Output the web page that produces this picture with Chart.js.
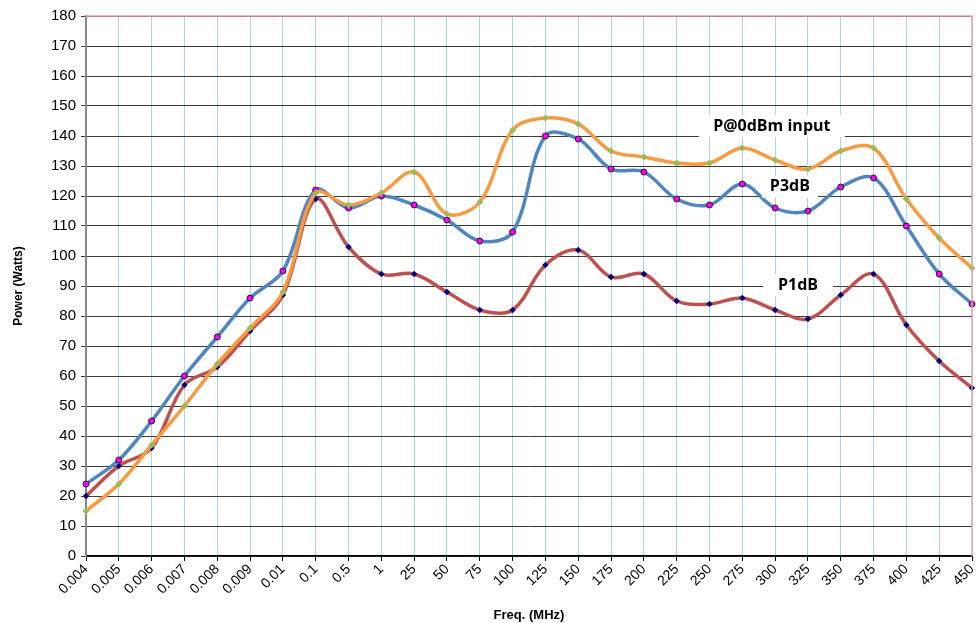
<!DOCTYPE html>
<html>
<head>
<meta charset="utf-8">
<script src="https://cdn.jsdelivr.net/npm/chart.js@4/dist/chart.umd.min.js"></script>
<style>
  html, body { margin: 0; padding: 0; background: #fff; }
  #wrap { width: 980px; height: 623px; }
</style>
</head>
<body>
<div id="wrap"><canvas id="c" width="980" height="623"></canvas></div>
<script>
const freqs = ["0.004", "0.005", "0.006", "0.007", "0.008", "0.009", "0.01", "0.1", "0.5", "1",
  "25", "50", "75", "100", "125", "150", "175", "200", "225", "250", "275", "300", "325",
  "350", "375", "400", "425", "450"];
const p0dbm = [15, 24, 37, 50, 64, 76, 88, 121, 117, 121, 128, 114, 118, 142, 146, 144, 135,
  133, 131, 131, 136, 132, 129, 135, 136, 119, 106, 96];
const p3db = [24, 32, 45, 60, 73, 86, 95, 122, 116, 120, 117, 112, 105, 108, 140, 139, 129,
  128, 119, 117, 124, 116, 115, 123, 126, 110, 94, 84];
const p1db = [20, 30, 36, 57, 63, 75, 87, 119, 103, 94, 94, 88, 82, 82, 97, 102, 93, 94, 85,
  84, 86, 82, 79, 87, 94, 77, 65, 56];

// series labels placed on the plot (category index, value)
const seriesLabels = [
  { text: "P@0dBm input", at: 20.9, val: 143.3, w: 146 },
  { text: "P3dB", at: 21.45, val: 123.1, w: 56 },
  { text: "P1dB", at: 21.7, val: 90.3, w: 70 },
];

const labelPlugin = {
  id: "labels",
  afterDraw(chart) {
    const { ctx, chartArea } = chart;
    const xs = chart.scales.x, ys = chart.scales.y;
    ctx.save();
    // pink frame on top and right
    ctx.strokeStyle = "#e3a2a2";
    ctx.lineWidth = 1.5;
    ctx.beginPath();
    ctx.moveTo(chartArea.left, chartArea.top);
    ctx.lineTo(chartArea.right, chartArea.top);
    ctx.lineTo(chartArea.right, chartArea.bottom);
    ctx.stroke();

    ctx.font = "bold 16px 'Open Sans', sans-serif";
    ctx.textAlign = "center";
    ctx.textBaseline = "middle";
    for (const l of seriesLabels) {
      const x0 = xs.left + (xs.right - xs.left) * l.at / (freqs.length - 1);
      const y0 = ys.getPixelForValue(l.val);
      ctx.fillStyle = "#fff";
      ctx.fillRect(x0 - l.w / 2, y0 - 11, l.w, 22);
      ctx.fillStyle = "#000";
      ctx.fillText(l.text, x0, y0);
    }
    ctx.restore();
  },
};

new Chart(document.getElementById("c"), {
  type: "line",
  data: {
    labels: freqs,
    datasets: [
      {
        label: "P@0dBm input",
        data: p0dbm,
        borderColor: "#f79a42",
        borderWidth: 3.5,
        pointStyle: "rectRot",
        pointRadius: 3,
        pointBackgroundColor: "#9bbb59",
        pointBorderColor: "#9bbb59",
        pointBorderWidth: 1,
        tension: 0.35,
        order: 1,
      },
      {
        label: "P3dB",
        data: p3db,
        borderColor: "#4f86c0",
        borderWidth: 3.5,
        pointStyle: "circle",
        pointRadius: 3,
        pointBackgroundColor: "#ff00ff",
        pointBorderColor: "#202020",
        pointBorderWidth: 1,
        tension: 0.35,
        order: 2,
      },
      {
        label: "P1dB",
        data: p1db,
        borderColor: "#c0504d",
        borderWidth: 3.5,
        pointStyle: "rectRot",
        pointRadius: 3.2,
        pointBackgroundColor: "#000080",
        pointBorderColor: "#000080",
        pointBorderWidth: 0,
        tension: 0.35,
        order: 3,
      },
    ],
  },
  options: {
    responsive: false,
    animation: false,
    layout: { padding: { top: 16, right: 8, left: 0, bottom: 0 } },
    plugins: {
      legend: { display: false },
      tooltip: { enabled: false },
    },
    scales: {
      x: {
        offset: false,
        grid: {
          offset: false,
          color: "#a9d6e4",
          lineWidth: 1,
          tickColor: "#000",
          tickLength: 5,
        },
        border: { color: "#000", width: 1.5 },
        ticks: {
          color: "#000",
          font: { family: "'Liberation Sans', Arial, sans-serif", size: 14 },
          minRotation: 45,
          maxRotation: 45,
          autoSkip: false,
          padding: 0,
        },
        title: {
          display: true,
          text: "Freq. (MHz)",
          color: "#000",
          font: { family: "'Liberation Sans', Arial, sans-serif", size: 13, weight: "bold" },
          padding: { top: 0, bottom: 0 },
        },
        afterFit(scale) {
          scale.height = 67;
          scale.paddingRight = 0;
          scale.paddingLeft = 0;
        },
      },
      y: {
        min: 0,
        max: 180,
        grid: {
          color: "#3c3c3c",
          lineWidth: 1,
          tickColor: "#3c3c3c",
          tickLength: 5,
        },
        border: { color: "#888", width: 2 },
        ticks: {
          stepSize: 10,
          color: "#000",
          font: { family: "'Liberation Sans', Arial, sans-serif", size: 15 },
          padding: 5,
        },
        title: {
          display: true,
          text: "Power (Watts)",
          color: "#000",
          font: { family: "'Liberation Sans', Arial, sans-serif", size: 12, weight: "bold" },
          padding: { top: 11, bottom: 0 },
        },
        afterFit(scale) { scale.width = 86; },
      },
    },
  },
  plugins: [labelPlugin],
});
</script>
</body>
</html>
